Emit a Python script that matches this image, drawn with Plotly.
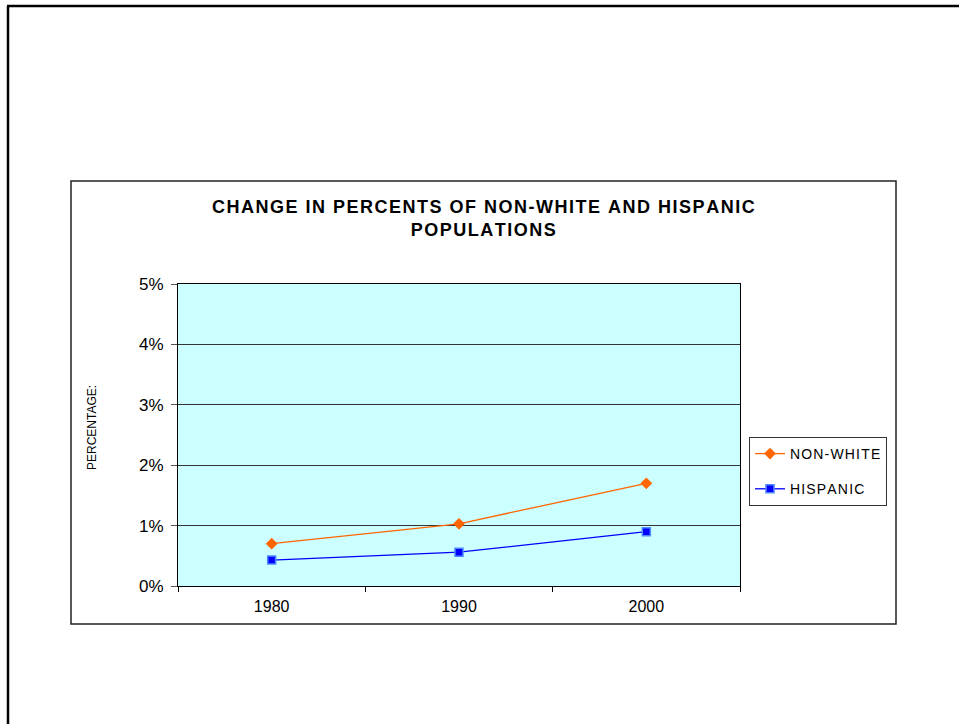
import plotly.graph_objects as go

years = ["1980", "1990", "2000"]
non_white = [0.70, 1.03, 1.70]
hispanic = [0.43, 0.56, 0.90]
y_ticks = [0, 1, 2, 3, 4, 5]
y_tick_labels = ["0%", "1%", "2%", "3%", "4%", "5%"]

W, H = 959, 724
L, R, T, B = 178, 740, 284, 586
pw, ph = R - L, B - T


def px(x):
    return (x - L) / pw


def py(y):
    return (B - y) / ph


def spaced(s):
    return "\u200a".join(list(s))


fig = go.Figure()
fig.add_trace(go.Scatter(
    x=years, y=non_white, name=spaced("NON-WHITE"), mode="lines+markers",
    line=dict(color="#FF6600", width=1.3),
    marker=dict(symbol="diamond", size=9, color="#FF6600"),
    legendgroup="a",
))
fig.add_trace(go.Scatter(
    x=years, y=hispanic, name=spaced("HISPANIC"), mode="lines+markers",
    line=dict(color="#0000FF", width=1.3),
    marker=dict(symbol="square", size=8, color="#0000FF",
                line=dict(color="#4D88FF", width=1.5)),
    legendgroup="b",
))

shapes = [
    # outer page border (left and top)
    dict(type="line", xref="paper", yref="paper",
         x0=px(8), x1=px(8), y0=py(730), y1=py(6),
         line=dict(color="black", width=2.5)),
    dict(type="line", xref="paper", yref="paper",
         x0=px(7), x1=px(965), y0=py(6), y1=py(6),
         line=dict(color="black", width=2.5)),
    # chart area box
    dict(type="rect", xref="paper", yref="paper",
         x0=px(71), x1=px(896), y0=py(624), y1=py(181),
         line=dict(color="#222222", width=1.5), layer="below"),
]

annotations = [
    dict(text="<b>" + spaced("CHANGE IN PERCENTS OF NON-WHITE AND HISPANIC") + "<br>" + spaced("POPULATIONS") + "</b>",
         xref="paper", yref="paper", x=px(483), y=py(219),
         xanchor="center", yanchor="middle", showarrow=False,
         font=dict(family="Liberation Sans, Arial, sans-serif", size=18, color="black"),
         align="center"),
    dict(text="PERCENTAGE:", xref="paper", yref="paper", x=px(92), y=py(428),
         xanchor="center", yanchor="middle", showarrow=False, textangle=-90,
         font=dict(family="Liberation Sans, Arial, sans-serif", size=12, color="black")),
]

fig.update_layout(
    width=W, height=H,
    margin=dict(l=L, r=W - R, t=T, b=H - B, pad=0),
    paper_bgcolor="white",
    plot_bgcolor="#CCFFFF",
    font=dict(family="Liberation Sans, Arial, sans-serif", color="black"),
    shapes=shapes,
    annotations=annotations,
    showlegend=True,
    legend=dict(
        x=px(749), y=py(437), xanchor="left", yanchor="top",
        bordercolor="#333333", borderwidth=1, bgcolor="white",
        font=dict(size=14, family="Liberation Sans, Arial, sans-serif"),
        tracegroupgap=14,
    ),
    xaxis=dict(
        type="category", range=[-0.5, 2.5], tickson="boundaries",
        ticks="outside", ticklen=5, tickcolor="black",
        showline=True, linecolor="black", linewidth=1.2, mirror=True,
        showgrid=False, tickfont=dict(size=16), ticklabelstandoff=6,
    ),
    yaxis=dict(
        range=[0, 5], tickvals=y_ticks, ticktext=y_tick_labels,
        ticks="outside", ticklen=6, tickcolor="#555555",
        showline=True, linecolor="black", linewidth=1.2, mirror=True,
        showgrid=True, gridcolor="#333333", gridwidth=1,
        zeroline=False, tickfont=dict(size=17), ticklabelstandoff=4,
    ),
)

fig.write_html("out.html")
